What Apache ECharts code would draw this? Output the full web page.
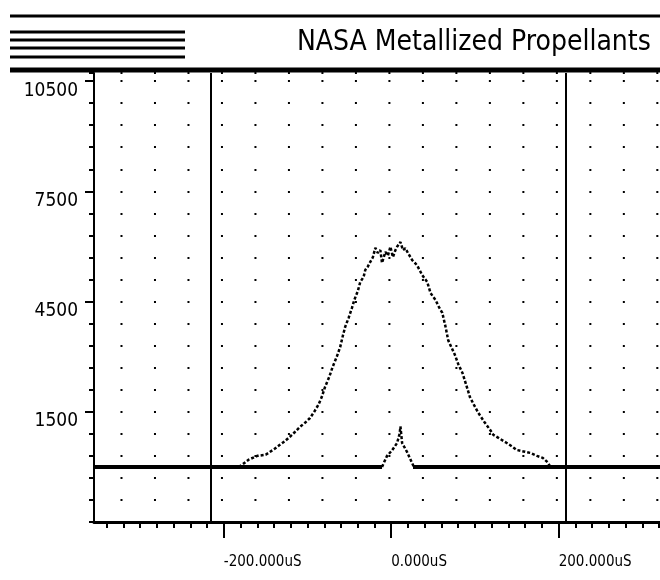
<!DOCTYPE html>
<html>
<head>
<meta charset="utf-8">
<script src="https://cdn.jsdelivr.net/npm/echarts@6.0.0/dist/echarts.min.js"></script>
<style>
  html, body { margin: 0; padding: 0; background: #fff; }
  #chart { width: 660px; height: 580px; }
</style>
</head>
<body>
<div id="chart"></div>
<script>
  // axis ticks and labels
  const xTickValues = [-200, 0, 200];
  const xTickLabels = ['-200.000uS', '0.000uS', '200.000uS'];
  const xMinorTicks = [-340, -320, -300, -280, -260, -240, -220, -200, -180, -160, -140, -120,
    -100, -80, -60, -40, -20, 0, 20, 40, 60, 80, 100, 120, 140, 160, 180, 200, 220, 240,
    260, 280, 300, 320];
  const yTickValues = [1500, 4500, 7500, 10500];
  const yTickLabels = ['1500', '4500', '7500', '10500'];

  // cursor lines (uS)
  const cursors = [-216, 209];

  // flat trace, broken where the small pulse is
  const baseLeft = [[-355, 0], [-11, 0]];
  const baseRight = [[26, 0], [321, 0]];
  const pulse = [[-11, 0], [-5, 300], [1, 450], [7, 650], [10, 900], [11, 1100], [13, 650],
    [19, 400], [25, 100], [27, 0]];

  // wide trace
  const wide = [[-182, 0], [-178, 60], [-170, 200], [-160, 300], [-150, 330], [-140, 480],
    [-133, 600], [-127, 700], [-121, 820], [-115, 950], [-109, 1090], [-103, 1200], [-97, 1330],
    [-92, 1500], [-87, 1690], [-83, 1900], [-79, 2180], [-74, 2450], [-70, 2720], [-65, 3000],
    [-61, 3260], [-58, 3550], [-55, 3810], [-51, 4050], [-47, 4320], [-44, 4550], [-40, 4780],
    [-37, 5030], [-33, 5170], [-31, 5360], [-28, 5450], [-25, 5580], [-22, 5700], [-19, 5960],
    [-16, 5820], [-13, 5900], [-11, 5550], [-7, 5850], [-4, 5750], [-1, 5990], [2, 5710],
    [5, 5900], [7, 5990], [11, 6120], [14, 5900], [17, 5950], [20, 5820], [25, 5630], [28, 5560],
    [31, 5480], [37, 5220], [43, 5030], [47, 4730], [53, 4540], [57, 4350], [61, 4190],
    [65, 3800], [68, 3450], [72, 3250], [76, 3050], [80, 2800], [85, 2560], [90, 2200],
    [94, 1900], [99, 1680], [104, 1470], [111, 1230], [118, 1010], [122, 870], [128, 790],
    [138, 650], [144, 560], [150, 460], [158, 420], [166, 380], [174, 300], [181, 245],
    [187, 120], [190, 0]];

  const narrow = '"DejaVu Sans Condensed", "Liberation Sans Narrow", sans-serif';
  const X_MIN = -355, X_MAX = 321, Y_MIN = -1500, Y_MAX = 10720;

  let chart = echarts.init(document.getElementById('chart'));
  chart.setOption({
    animation: false,
    backgroundColor: '#fff',
    title: {
      text: 'NASA Metallized Propellants',
      left: 292,
      top: 24,
      textStyle: { fontFamily: narrow, fontSize: 28, fontWeight: 'normal', color: '#000' }
    },
    graphic: [
      { type: 'line', shape: { x1: 10, y1: 16, x2: 660, y2: 16 }, style: { stroke: '#000', lineWidth: 3 } },
      { type: 'line', shape: { x1: 10, y1: 32, x2: 185, y2: 32 }, style: { stroke: '#000', lineWidth: 3 } },
      { type: 'line', shape: { x1: 10, y1: 40, x2: 185, y2: 40 }, style: { stroke: '#000', lineWidth: 3 } },
      { type: 'line', shape: { x1: 10, y1: 48, x2: 185, y2: 48 }, style: { stroke: '#000', lineWidth: 3 } },
      { type: 'line', shape: { x1: 10, y1: 57, x2: 185, y2: 57 }, style: { stroke: '#000', lineWidth: 3 } },
      { type: 'line', shape: { x1: 10, y1: 70, x2: 660, y2: 70 }, style: { stroke: '#000', lineWidth: 5 } }
    ],
    grid: { left: 94, right: 0, top: 73, bottom: 58 },
    xAxis: [
      {
        type: 'value', min: X_MIN, max: X_MAX,
        axisLine: { onZero: false, lineStyle: { color: '#000', width: 3 } },
        axisTick: { customValues: xMinorTicks, length: 6, lineStyle: { color: '#000', width: 2 } },
        axisLabel: {
          customValues: xTickValues,
          formatter: v => xTickLabels[xTickValues.indexOf(v)],
          align: 'left', verticalAlign: 'top', margin: 33,
          fontFamily: narrow, fontSize: 15, color: '#000'
        },
        splitLine: { show: false }
      },
      {
        type: 'value', min: X_MIN, max: X_MAX, position: 'bottom',
        axisLine: { show: false, onZero: false },
        axisTick: { customValues: xTickValues, length: 16, lineStyle: { color: '#000', width: 2 } },
        axisLabel: { show: false },
        splitLine: { show: false }
      }
    ],
    yAxis: [
      {
        type: 'value', min: Y_MIN, max: Y_MAX, interval: 600,
        axisLine: { show: true, onZero: false, lineStyle: { color: '#000', width: 2 } },
        axisTick: { show: true, length: 5, lineStyle: { color: '#000', width: 2 } },
        axisLabel: {
          customValues: yTickValues,
          formatter: v => yTickLabels[yTickValues.indexOf(v)],
          verticalAlign: 'top', margin: 16,
          fontFamily: narrow, fontSize: 19, color: '#000'
        },
        // dotted grid: one dot every 40 uS along each 600 row
        splitLine: {
          show: true,
          lineStyle: { color: '#000', width: 2, type: [2, 31.49], dashOffset: 7 }
        }
      },
      {
        type: 'value', min: Y_MIN, max: Y_MAX, position: 'left',
        axisLine: { show: false, onZero: false },
        axisTick: { show: true, customValues: yTickValues, length: 9, lineStyle: { color: '#000', width: 2 } },
        axisLabel: { show: false },
        splitLine: { show: false }
      }
    ],
    series: [
      {
        type: 'line', data: baseLeft, symbol: 'none',
        lineStyle: { color: '#000', width: 4 },
        markLine: {
          silent: true, symbol: ['none', 'none'], label: { show: false },
          lineStyle: { color: '#000', width: 2, type: 'solid' },
          data: cursors.map(c => ({ xAxis: c }))
        }
      },
      { type: 'line', data: baseRight, symbol: 'none', lineStyle: { color: '#000', width: 4 } },
      { type: 'line', data: pulse, symbol: 'none', lineStyle: { color: '#000', width: 2.5, type: [3, 2] } },
      { type: 'line', data: wide, symbol: 'none', lineStyle: { color: '#000', width: 2.5, type: [3, 2] } }
    ]
  });
</script>
</body>
</html>
